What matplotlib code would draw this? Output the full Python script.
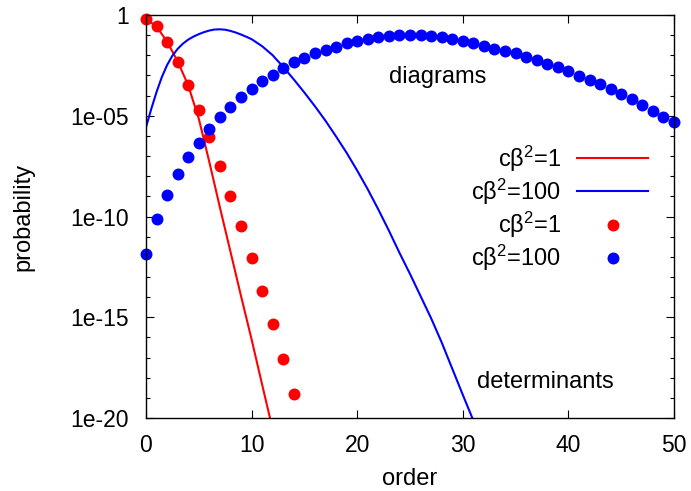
import numpy as np
import matplotlib
matplotlib.use("Agg")
import matplotlib.pyplot as plt

plt.rcParams['font.family'] = ['Liberation Sans', 'DejaVu Sans']
plt.rcParams['mathtext.fontset'] = 'custom'
plt.rcParams['mathtext.rm'] = 'Liberation Sans'
plt.rcParams['mathtext.it'] = 'Liberation Sans:italic'
plt.rcParams['mathtext.default'] = 'regular'

# ---- data (log10 of probability) ----
red_line_k = [0, 1, 2, 3, 4, 5, 6, 7, 8, 9, 10, 11, 11.74]
red_line_log10 = [-0.2, -0.57, -1.33, -2.3, -3.5, -5.15, -7.3, -9.55, -11.75, -13.95, -16.1, -18.35, -20.0]

blue_line_k = [0, 0.5, 1, 1.5, 2, 2.5, 3, 3.5, 4, 4.5, 5, 5.5, 6, 6.5, 7, 7.5, 8, 8.5, 9, 9.5,
               10, 11, 12, 13, 14, 15, 16, 17, 18, 19, 20, 21, 22, 23, 24, 25, 26, 27, 28,
               29, 30, 30.94]
blue_line_log10 = [-5.57, -4.66, -3.82, -3.08, -2.48, -2.02, -1.68, -1.42, -1.22, -1.07, -0.95,
                   -0.85, -0.77, -0.72, -0.71, -0.73, -0.79, -0.87, -0.97, -1.08, -1.2, -1.55,
                   -2.0, -2.58, -3.2, -3.85, -4.53, -5.25, -6.03, -6.84, -7.72, -8.65, -9.65,
                   -10.7, -11.8, -12.85, -13.95, -15.05, -16.25, -17.55, -18.85, -20.05]

red_dots_k = list(range(0, 15))
red_dots_log10 = [-0.21, -0.53, -1.33, -2.32, -3.47, -4.71, -6.04, -7.49, -8.98, -10.49,
                  -12.06, -13.68, -15.35, -17.06, -18.79]

blue_dots_k = list(range(0, 51))
blue_dots_log10 = [-11.85, -10.14, -8.93, -7.91, -7.03, -6.34, -5.66, -5.08, -4.55, -4.08,
                   -3.66, -3.28, -2.96, -2.65, -2.35, -2.12, -1.90, -1.74, -1.57, -1.40,
                   -1.28, -1.18, -1.09, -1.03, -0.98, -0.98, -0.99, -1.03, -1.11, -1.19,
                   -1.31, -1.40, -1.54, -1.67, -1.78, -1.91, -2.08, -2.24, -2.41, -2.58,
                   -2.80, -3.03, -3.23, -3.44, -3.69, -3.94, -4.18, -4.47, -4.75, -5.05,
                   -5.33]

x_ticks = [0, 10, 20, 30, 40, 50]
y_ticks = [1, 1e-5, 1e-10, 1e-15, 1e-20]
y_ticklabels = ["1", "1e-05", "1e-10", "1e-15", "1e-20"]

labels = ["cβ$^{2}$=1", "cβ$^{2}$=100"]

# ---- figure ----
fig = plt.figure(figsize=(6.91, 4.91), dpi=100)
ax = fig.add_axes([146/691, 1 - 418/491, (674-146)/691, (418-15)/491])

FS = 17
FT = 16.5
red = '#ff0000'
blue = '#0000ff'

ax.plot(red_line_k, np.power(10.0, red_line_log10), color=red, lw=1.5, label=labels[0])
ax.plot(blue_line_k, np.power(10.0, blue_line_log10), color=blue, lw=1.5, label=labels[1])
ax.plot(red_dots_k, np.power(10.0, red_dots_log10), 'o', color=red, ms=8.6, mec='none',
        label=labels[0], clip_on=False)
ax.plot(blue_dots_k, np.power(10.0, blue_dots_log10), 'o', color=blue, ms=8.6, mec='none',
        label=labels[1], clip_on=False)

ax.set_yscale('log')
ax.set_xlim(0, 50)
ax.set_ylim(1e-20, 1)
ax.set_xticks(x_ticks)
ax.set_xticklabels([str(v) for v in x_ticks], fontsize=FT)
ax.set_yticks(y_ticks)
ax.set_yticklabels(y_ticklabels, fontsize=FT)
ax.yaxis.set_minor_locator(matplotlib.ticker.FixedLocator([10.0**(-i) for i in range(1, 20)]))
ax.yaxis.set_minor_formatter(matplotlib.ticker.NullFormatter())
ax.xaxis.set_minor_locator(matplotlib.ticker.NullLocator())
ax.tick_params(which='both', direction='in', top=True, right=True, width=0.8)
ax.tick_params(which='major', length=6)
ax.tick_params(axis='x', which='major', pad=11.5)
ax.tick_params(axis='y', which='major', pad=12.3)
ax.tick_params(which='minor', length=3)
for s in ax.spines.values():
    s.set_linewidth(1.0)

ax.set_xlabel("order", fontsize=FS, labelpad=8)
ax.set_ylabel("probability", fontsize=FS)
ax.yaxis.set_label_coords(-0.212, 0.5)

ax.text(27.65, 10**-3.08, "diagrams", fontsize=FS, ha='center', va='center')
ax.text(37.8, 10**-18.2, "determinants", fontsize=FS, ha='center', va='center')

leg = ax.legend(loc='upper right', bbox_to_anchor=(0.969, 0.705), markerfirst=False,
                frameon=False, fontsize=FS, handlelength=3.0, handletextpad=0.7,
                labelspacing=0.13, borderaxespad=0)

fig.savefig("out.png", dpi=100)
